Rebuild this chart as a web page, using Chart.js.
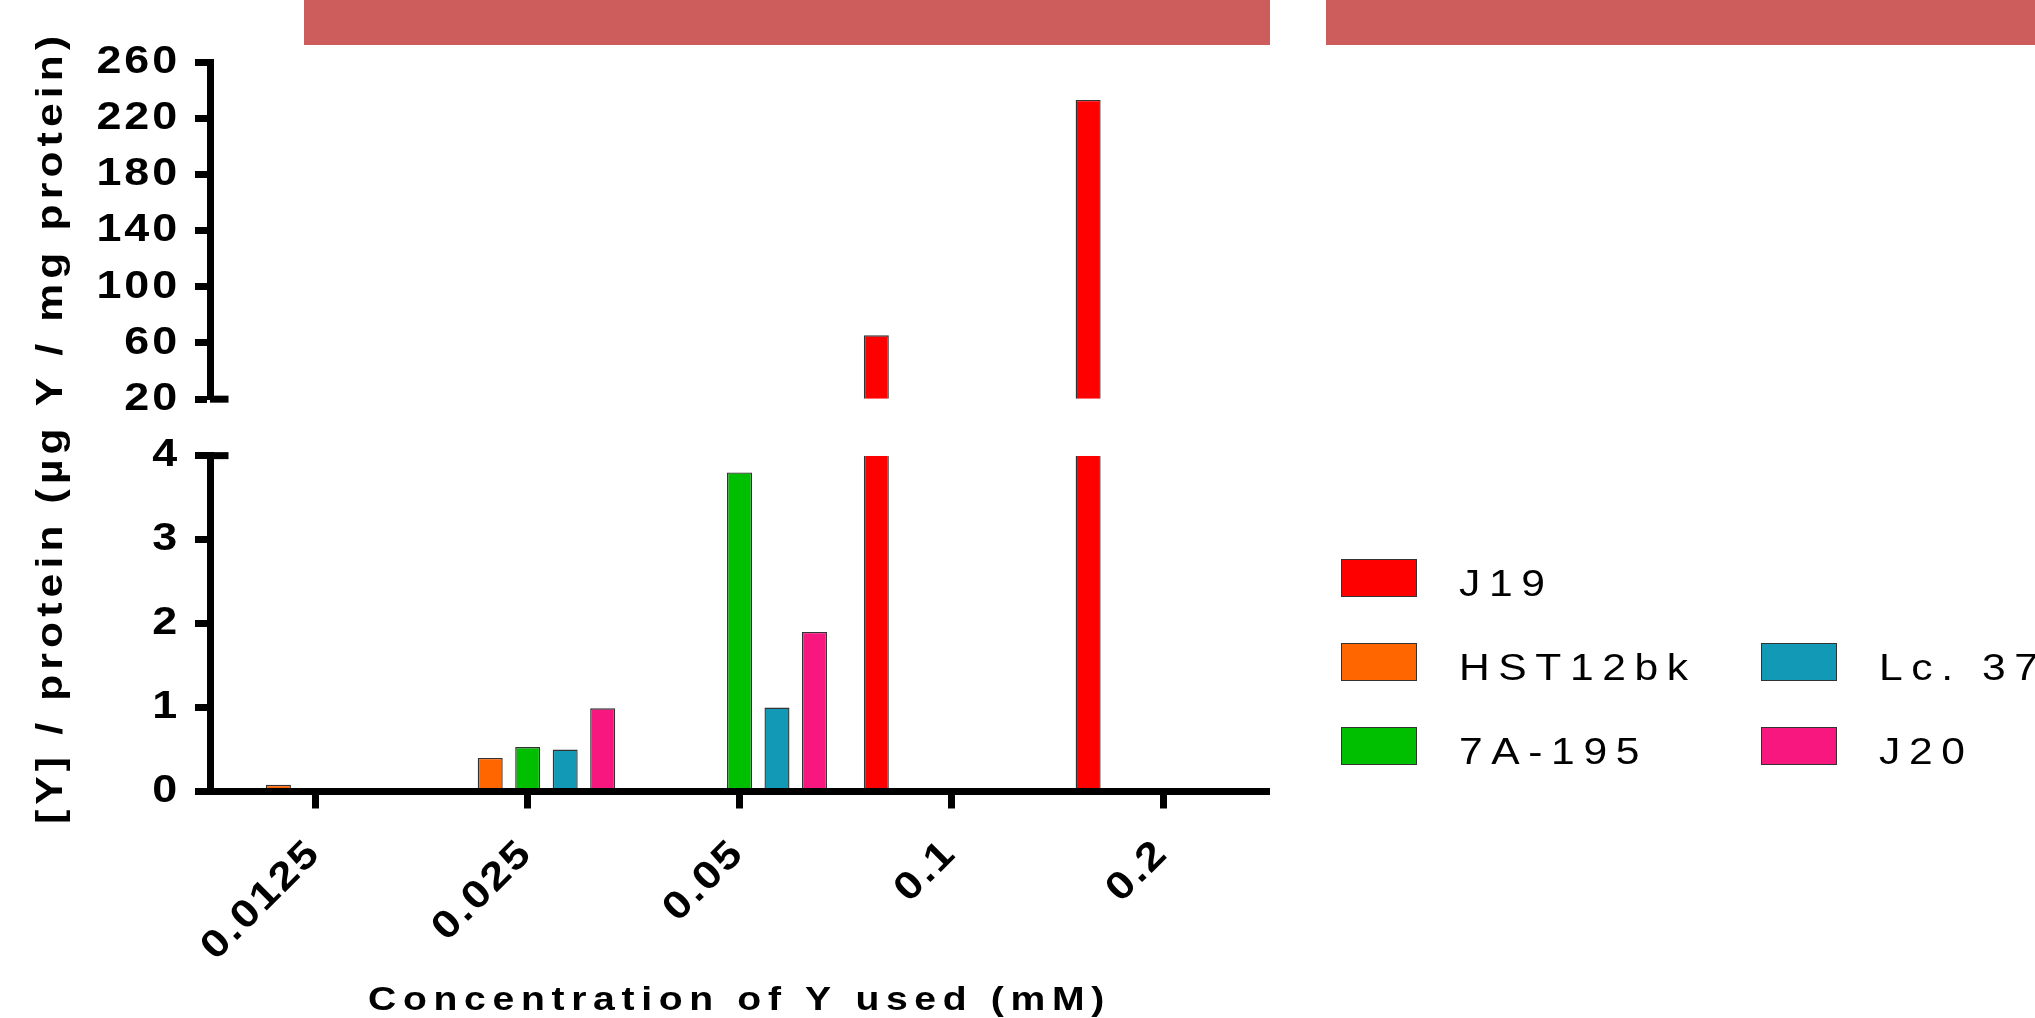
<!DOCTYPE html>
<html>
<head>
<meta charset="utf-8">
<script src="https://cdn.jsdelivr.net/npm/chart.js@4.4.1/dist/chart.umd.min.js"></script>
<style>
  html, body { margin: 0; padding: 0; background: #fff; overflow: hidden; }
  #wrap { position: relative; width: 2035px; height: 1018px; overflow: hidden; }
  #chart { position: absolute; left: 0; top: 0; }
  .band { position: absolute; top: 0; height: 45px; background: #CD5C5C; }
  #legend { position: absolute; left: 1341px; top: 559px; display: grid;
            grid-template-columns: 420px 420px; grid-template-rows: repeat(3, 84px);
            grid-auto-flow: column; }
  .item { position: relative; height: 38px; }
  .swatch { position: absolute; left: 0; top: 0; width: 76px; height: 38px;
            box-sizing: border-box; border: 1.5px solid #333; }
  .lbl { position: absolute; left: 118px; top: 6px; font-family: 'Liberation Sans', Arial, sans-serif;
         font-size: 37px; line-height: 38px; letter-spacing: 7.5px; white-space: nowrap; color: #000;
         transform: scaleX(1.15); transform-origin: 0 50%; }
</style>
</head>
<body>
<div id="wrap">
  <canvas id="chart" width="2035" height="1018"></canvas>
  <div class="band" style="left:304px;width:966px"></div>
  <div class="band" style="left:1326px;width:720px"></div>
  <div id="legend"></div>
</div>
<script>
// ---------- data ----------
const categories = ['0.0125', '0.025', '0.05', '0.1', '0.2'];
const seriesNames = ['J19', 'HST12bk', '7A-195', 'Lc. 37', 'J20'];
const J19      = [null, null, null, 65.5, 233];
const HST12bk  = [0.08, 0.40, null, null, null];
const A7_195   = [null, 0.53, 3.80, null, null];
const Lc37     = [null, 0.50, 1.00, null, null];
const J20      = [null, 0.99, 1.90, null, null];
const lowTicks  = [0, 1, 2, 3, 4];
const highTicks = [20, 60, 100, 140, 180, 220, 260];
const xTitle = 'Concentration of Y used (mM)';
const yTitle = '[Y] / protein (µg Y / mg protein)';

// ---------- styles ----------
const seriesColors = ['#FF0000', '#FF6600', '#00BF00', '#1199B5', '#F7177F'];
const FONT = "'Liberation Sans', Arial, Helvetica, sans-serif";
const TEXT_STRETCH = 1.15;
const TICK_SPACING = { x: '2px', yLow: '2.5px', yHigh: '2.5px' };
const TITLE_SPACING = { x: '5.8px', yGap: '4.5px' };

const seriesValues = [J19, HST12bk, A7_195, Lc37, J20];
const LOW_MAX = lowTicks[lowTicks.length - 1];
const HIGH_MIN = highTicks[0];

const barStyle = {
  borderColor: '#333',
  borderWidth: 1.4,
  categoryPercentage: 0.885,
  barPercentage: 0.667
};

const datasets = [];
// upper (broken) segment: only series that exceed the lower axis
seriesValues.forEach((vals, i) => {
  if (vals.some(v => v != null && v > LOW_MAX)) {
    datasets.push(Object.assign({
      label: seriesNames[i], stack: seriesNames[i], yAxisID: 'yHigh',
      data: vals.map(v => (v != null && v > LOW_MAX) ? v : null),
      base: HIGH_MIN,
      backgroundColor: seriesColors[i]
    }, barStyle));
  }
});
// lower segment
seriesValues.forEach((vals, i) => {
  datasets.push(Object.assign({
    label: seriesNames[i], stack: seriesNames[i], yAxisID: 'yLow',
    data: vals.map(v => v == null ? null : Math.min(v, LOW_MAX)),
    borderSkipped: ctx => (vals[ctx.dataIndex] > LOW_MAX ? 'end' : 'start'),
    backgroundColor: seriesColors[i]
  }, barStyle));
});

// ---------- plugins ----------
function withTextStyle(ctx, spacing, fn) {
  ctx.save();
  ctx.letterSpacing = spacing;
  const orig = CanvasRenderingContext2D.prototype.fillText;
  ctx.fillText = function (t, x, y) {
    this.save();
    this.translate(x, y);
    this.scale(TEXT_STRETCH, 1);
    orig.call(this, t, 0, 0);
    this.restore();
  };
  try { fn(); } finally { delete ctx.fillText; ctx.restore(); }
}

const textStylePlugin = {
  id: 'textStyle',
  afterUpdate(chart) {
    for (const s of Object.values(chart.scales)) {
      if (s.__ls) continue;
      s.__ls = true;
      const dl = s.drawLabels, dt = s.drawTitle;
      s.drawLabels = function (a) { withTextStyle(this.ctx, TICK_SPACING[this.id] || '0px', () => dl.call(this, a)); };
      s.drawTitle = function () { withTextStyle(this.ctx, TITLE_SPACING[this.id] || '0px', () => dt.call(this)); };
    }
  }
};

const breakPlugin = {
  id: 'axisBreak',
  afterDraw(chart) {
    const ctx = chart.ctx, hi = chart.scales.yHigh, lo = chart.scales.yLow;
    ctx.save();
    ctx.strokeStyle = '#000';
    ctx.lineWidth = 7;
    [[hi, hi.getPixelForValue(hi.min)], [lo, lo.getPixelForValue(lo.max)]].forEach(([s, y]) => {
      ctx.beginPath();
      ctx.moveTo(s.right, y);
      ctx.lineTo(s.right + 18.5, y);
      ctx.stroke();
    });
    ctx.restore();
  }
};

const htmlLegendPlugin = {
  id: 'htmlLegend',
  afterUpdate(chart) {
    const el = document.getElementById('legend');
    el.innerHTML = '';
    const seen = [];
    chart.data.datasets.forEach(d => {
      if (!seen.find(s => s.text === d.label)) seen.push({ text: d.label, color: d.backgroundColor });
    });
    // first column holds three entries, second column starts one row lower
    const cells = seen.slice(0, 3).concat([null], seen.slice(3));
    cells.forEach(c => {
      const item = document.createElement('div');
      item.className = 'item';
      if (c) {
        const sw = document.createElement('div');
        sw.className = 'swatch';
        sw.style.background = c.color;
        const t = document.createElement('span');
        t.className = 'lbl';
        t.textContent = c.text;
        item.appendChild(sw);
        item.appendChild(t);
      }
      el.appendChild(item);
    });
  }
};

const tickFont = { family: FONT, size: 39, weight: 'bold' };

new Chart(document.getElementById('chart'), {
  type: 'bar',
  data: { labels: categories, datasets },
  plugins: [textStylePlugin, breakPlugin, htmlLegendPlugin],
  options: {
    responsive: false,
    animation: false,
    devicePixelRatio: 1,
    layout: { padding: { left: 0, right: 766, top: 62, bottom: 0 } },
    plugins: { legend: { display: false }, tooltip: { enabled: false } },
    scales: {
      x: {
        type: 'category',
        offset: true,
        grid: { display: true, drawOnChartArea: false, drawTicks: true, tickLength: 17, tickWidth: 7, tickColor: '#000', offset: false },
        border: { display: true, width: 7, color: '#000', z: 1 },
        ticks: { color: '#000', font: tickFont, minRotation: 45, maxRotation: 45, padding: 22, labelOffset: -1, autoSkip: false },
        title: { display: true, text: xTitle, color: '#000', font: { family: FONT, size: 34, weight: 'bold', lineHeight: 1 }, padding: { top: 0, bottom: 0 } },
        afterFit: s => { s.height = 226.5; }
      },
      yLow: {
        type: 'linear', position: 'left', stack: 'y', stackWeight: 336,
        min: lowTicks[0], max: LOW_MAX,
        afterBuildTicks: s => { s.ticks = lowTicks.map(v => ({ value: v })); },
        grid: { display: true, drawOnChartArea: false, tickLength: 15, tickWidth: 7, tickColor: '#000' },
        border: { display: true, width: 7, color: '#000' },
        ticks: { color: '#000', font: tickFont, padding: 15, autoSkip: false },
        afterFit: s => { s.width = 210; }
      },
      yGap: {
        type: 'linear', position: 'left', stack: 'y', stackWeight: 56.5,
        min: 0, max: 1,
        grid: { display: false }, border: { display: false }, ticks: { display: false },
        title: { display: true, text: yTitle, color: '#000', font: { family: FONT, size: 37, weight: 'bold', lineHeight: 1.2 }, padding: { top: 30, bottom: 0 } },
        afterFit: s => { s.width = 210; }
      },
      yHigh: {
        type: 'linear', position: 'left', stack: 'y', stackWeight: 337.3,
        min: HIGH_MIN, max: highTicks[highTicks.length - 1],
        afterBuildTicks: s => { s.ticks = highTicks.map(v => ({ value: v })); },
        grid: { display: true, drawOnChartArea: false, tickLength: 15, tickWidth: 7, tickColor: '#000' },
        border: { display: true, width: 7, color: '#000' },
        ticks: { color: '#000', font: tickFont, padding: 15, autoSkip: false },
        afterFit: s => { s.width = 210; }
      }
    }
  }
});
</script>
</body>
</html>
